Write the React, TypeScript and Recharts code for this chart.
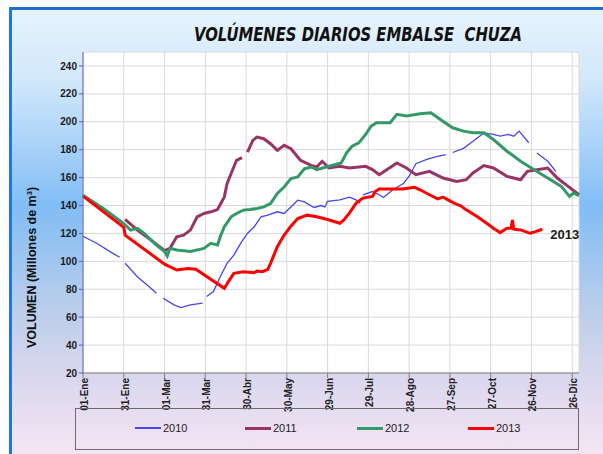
import React from "react";
import { LineChart, Line, XAxis, YAxis, CartesianGrid } from "recharts";

// day of year (0 = 01-Ene) and volume in millions of m3; null = gap in record
const days2010 = [0, 10, 22, 27, 29, 31, 40, 50, 54, 57, 59, 67, 72, 79, 88, 89, 91, 96, 101, 106, 111, 116, 121, 126, 131, 136, 143, 148, 153, 158, 163, 170, 175, 178, 180, 189, 196, 201, 204, 205, 206, 213, 218, 221, 228, 236, 240, 245, 253, 260, 267, 270, 272, 280, 287, 295, 302, 307, 313, 317, 321, 328, 331, 334, 342, 348];
const vol2010 = [118, 113, 105.7, 102.9, null, 98.6, 89, 80.7, 77.1, null, 73.6, 68.8, 66.9, 68.8, 70, null, 74.8, 78.3, 89, 98.6, 104.5, 112.9, 120, 124.8, 131.9, 133.1, 135.5, 134.3, 139, 143.8, 142.6, 138.6, 140, 139, 143, 144, 146, 144, 141.7, null, 147.7, 150, 147.7, 145.8, 151.3, 156, 161, 170, 173, 175, 176.5, null, 178, 181, 186, 192, 191, 189.7, 191, 189.7, 193.3, 185, null, 177.7, 171.7, 164.5];

const days2011 = [31, 40, 50, 58, 60, 64, 69, 74, 79, 84, 89, 94, 99, 104, 106, 109, 113, 117, 119, 121, 125, 128, 133, 138, 143, 148, 153, 160, 168, 172, 176, 181, 189, 196, 208, 213, 218, 231, 238, 245, 255, 265, 275, 282, 287, 295, 302, 312, 322, 327, 334, 342, 349, 357, 365];
const vol2011 = [130, 122.4, 115.2, 109.3, 107.6, 109.3, 117.6, 118.8, 122.4, 131.9, 134.3, 135.5, 137.1, 146.2, 155.7, 162.9, 172.4, 174.3, null, 178.3, 186.7, 189, 187.9, 184.3, 179.5, 183.1, 180.7, 172.4, 168.8, 167.6, 171.7, 166.9, 168.1, 166.9, 168.1, 165.7, 162.1, 170.5, 166.9, 162.1, 164.5, 159.7, 157.3, 158.5, 163.3, 168.6, 166.9, 160.9, 158.5, 164.5, 165.7, 166.9, 159.7, 153.7, 147.7];

const days2012 = [0, 15, 30, 35, 40, 45, 54, 60, 62, 64, 69, 79, 89, 94, 99, 101, 104, 109, 113, 118, 123, 128, 133, 138, 143, 148, 153, 158, 163, 168, 172, 181, 190, 194, 198, 203, 208, 212, 216, 226, 231, 238, 248, 256, 263, 272, 280, 287, 295, 302, 312, 322, 332, 342, 352, 358, 361, 365];
const vol2012 = [147.4, 137.9, 127.1, 122.4, 123.6, 120, 111.7, 107, 103.8, 109.3, 108.1, 107, 109.3, 112.9, 111.7, 117.6, 124.8, 131.9, 134.3, 136.7, 137.1, 137.9, 139, 141.4, 148.6, 153.3, 159.3, 160.5, 166.4, 167.6, 165.7, 168.1, 170.5, 177.7, 182.5, 184.9, 190.9, 196.9, 199.3, 199.3, 205.3, 204.1, 205.8, 206.5, 201.7, 195.7, 193.3, 192.1, 192.1, 187.3, 178.9, 171.7, 165.7, 159.7, 153.7, 146.5, 148.9, 147];

const days2013 = [0, 30, 31, 60, 69, 77, 83, 104, 107, 111, 118, 126, 128, 132, 136, 138, 143, 148, 153, 158, 165, 172, 180, 189, 192, 196, 201, 206, 213, 215, 218, 228, 235, 244, 248, 255, 261, 265, 273, 278, 282, 290, 297, 302, 307, 312, 315, 316, 317, 322, 329, 333, 338];
const vol2013 = [146.7, 124.3, 118.8, 98, 93.8, 94.9, 94.4, 80.7, 85.5, 91.4, 92.6, 91.9, 93, 92.6, 94.3, 98.6, 110.5, 118.8, 125.2, 130.7, 133.1, 131.9, 130, 127.3, 129.7, 134.5, 141.7, 145.3, 146.5, 150, 151.8, 151.8, 151.8, 153, 151.3, 147.7, 144.8, 146, 141.7, 139.8, 136.9, 132.1, 127.3, 123.7, 120.6, 123.7, 123.7, 129.7, 123, 122.5, 120.1, 121.3, 123];

const tickDays = [0, 30, 60, 90, 120, 150, 180, 210, 240, 270, 300, 330, 360];
const tickLabels = ["01-Ene", "31-Ene", "01-Mar", "31-Mar", "30-Abr", "30-May", "29-Jun", "29-Jul", "28-Ago", "27-Sep", "27-Oct", "26-Nov", "26-Dic"];
const yTicks = [20, 40, 60, 80, 100, 120, 140, 160, 180, 200, 220, 240];

const years = ["2010", "2011", "2012", "2013"];
const colors: Record<string, string> = {
  "2010": "#4646ee",
  "2011": "#993366",
  "2012": "#339966",
  "2013": "#ff0000",
};
const widths: Record<string, number> = { "2010": 1.3, "2011": 3, "2012": 3, "2013": 3 };

const zip = (d: number[], v: (number | null)[]) => d.map((day, i) => ({ d: day, v: v[i] }));
const seriesData: Record<string, { d: number; v: number | null }[]> = {
  "2010": zip(days2010, vol2010),
  "2011": zip(days2011, vol2011),
  "2012": zip(days2012, vol2012),
  "2013": zip(days2013, vol2013),
};

const FONT = "'Liberation Sans', Arial, sans-serif";

function XTick({ x, y, payload }: { x?: number; y?: number; payload?: { value: number } }) {
  const idx = tickDays.indexOf(payload?.value ?? -1);
  return (
    <text
      transform={`translate(${(x ?? 0) + 5},${y ?? 0}) rotate(-90)`}
      textAnchor="end"
      fontSize={10}
      fontWeight="bold"
      fontFamily={FONT}
      fill="#222"
    >
      {tickLabels[idx]}
    </text>
  );
}

function YTitle({ viewBox }: { viewBox?: { x: number; y: number; width: number; height: number } }) {
  if (!viewBox) return null;
  const cy = viewBox.y + viewBox.height / 2 + 55;
  return (
    <text
      transform={`translate(${viewBox.x + 36},${cy}) rotate(-90)`}
      textAnchor="middle"
      fontSize={12.5}
      fontWeight="bold"
      fontFamily={FONT}
      fill="#111"
    >
      VOLUMEN (Millones de m³)
    </text>
  );
}

function EndLabel(props: { x?: number; y?: number; index?: number }) {
  if (props.index !== days2013.length - 1) return null;
  return (
    <text x={(props.x ?? 0) + 8} y={(props.y ?? 0) + 10} fontSize={13} fontWeight="bold" fontFamily={FONT} fill="#1a1a1a">
      2013
    </text>
  );
}

const legendLefts = [135, 245, 357, 468];

export default function App() {
  return (
    <div style={{ position: "fixed", left: 0, top: 0, width: 603, height: 454, background: "#fff", overflow: "hidden", fontFamily: FONT }}>
      <div
        style={{
          position: "absolute",
          left: 9,
          top: 7,
          width: 594,
          height: 447,
          boxSizing: "border-box",
          borderTop: "3px solid #1f6fd0",
          borderLeft: "3px solid #1f78dc",
          background:
            "linear-gradient(to bottom, #e6f3fd 0px, #d2e8fb 70px, #a6d0f8 140px, #80bdf5 195px, #9cc5f0 245px, #b9cdeb 295px, #d0d4ec 345px, #e4dcf0 395px, #f6e5f4 447px)",
        }}
      />
      <div
        style={{
          position: "absolute",
          left: 358,
          top: 34,
          transform: "translate(-50%, -50%) scaleX(0.78)",
          whiteSpace: "pre",
          fontSize: 19,
          fontWeight: "bold",
          fontStyle: "italic",
          fontFamily: "'DejaVu Sans', Verdana, sans-serif",
          color: "#111",
          lineHeight: "22px",
        }}
      >
        VOLÚMENES DIARIOS EMBALSE  CHUZA
      </div>
      <div style={{ position: "absolute", left: 0, top: 0 }}>
        <LineChart width={603} height={454} margin={{ top: 52, right: 24, bottom: 46, left: 0 }}>
          <CartesianGrid stroke="#d9d9d9" fill="#ffffff" />
          <XAxis
            type="number"
            dataKey="d"
            domain={[0, 365]}
            ticks={tickDays}
            interval={0}
            height={35}
            stroke="#7f7f7f"
            tickSize={5}
            tickMargin={0}
            tick={<XTick />}
          />
          <YAxis
            type="number"
            domain={[20, 250]}
            ticks={yTicks}
            interval={0}
            width={83}
            stroke="#5a5ad2"
            tickSize={4}
            tickMargin={2}
            tick={{ fill: "#1a1a1a", fontSize: 10, fontWeight: "bold", fontFamily: FONT }}
            label={<YTitle />}
          />
          {years.map((yr) => (
            <Line
              key={yr}
              data={seriesData[yr]}
              dataKey="v"
              name={yr}
              type="linear"
              stroke={colors[yr]}
              strokeWidth={widths[yr]}
              dot={false}
              activeDot={false}
              connectNulls={false}
              isAnimationActive={false}
              label={yr === "2013" ? <EndLabel /> : false}
            />
          ))}
        </LineChart>
      </div>
      <div
        style={{
          position: "absolute",
          left: 75,
          top: 408,
          width: 504,
          height: 42,
          boxSizing: "border-box",
          border: "1px solid #6b6b6b",
        }}
      />
      {years.map((yr, i) => (
        <div key={yr} style={{ position: "absolute", left: legendLefts[i], top: 422, display: "flex", alignItems: "center", fontSize: 11, color: "#222" }}>
          <span style={{ display: "inline-block", width: 26, height: widths[yr] > 2 ? 3 : 2, background: colors[yr], marginRight: 2 }} />
          <span>{yr}</span>
        </div>
      ))}
    </div>
  );
}
